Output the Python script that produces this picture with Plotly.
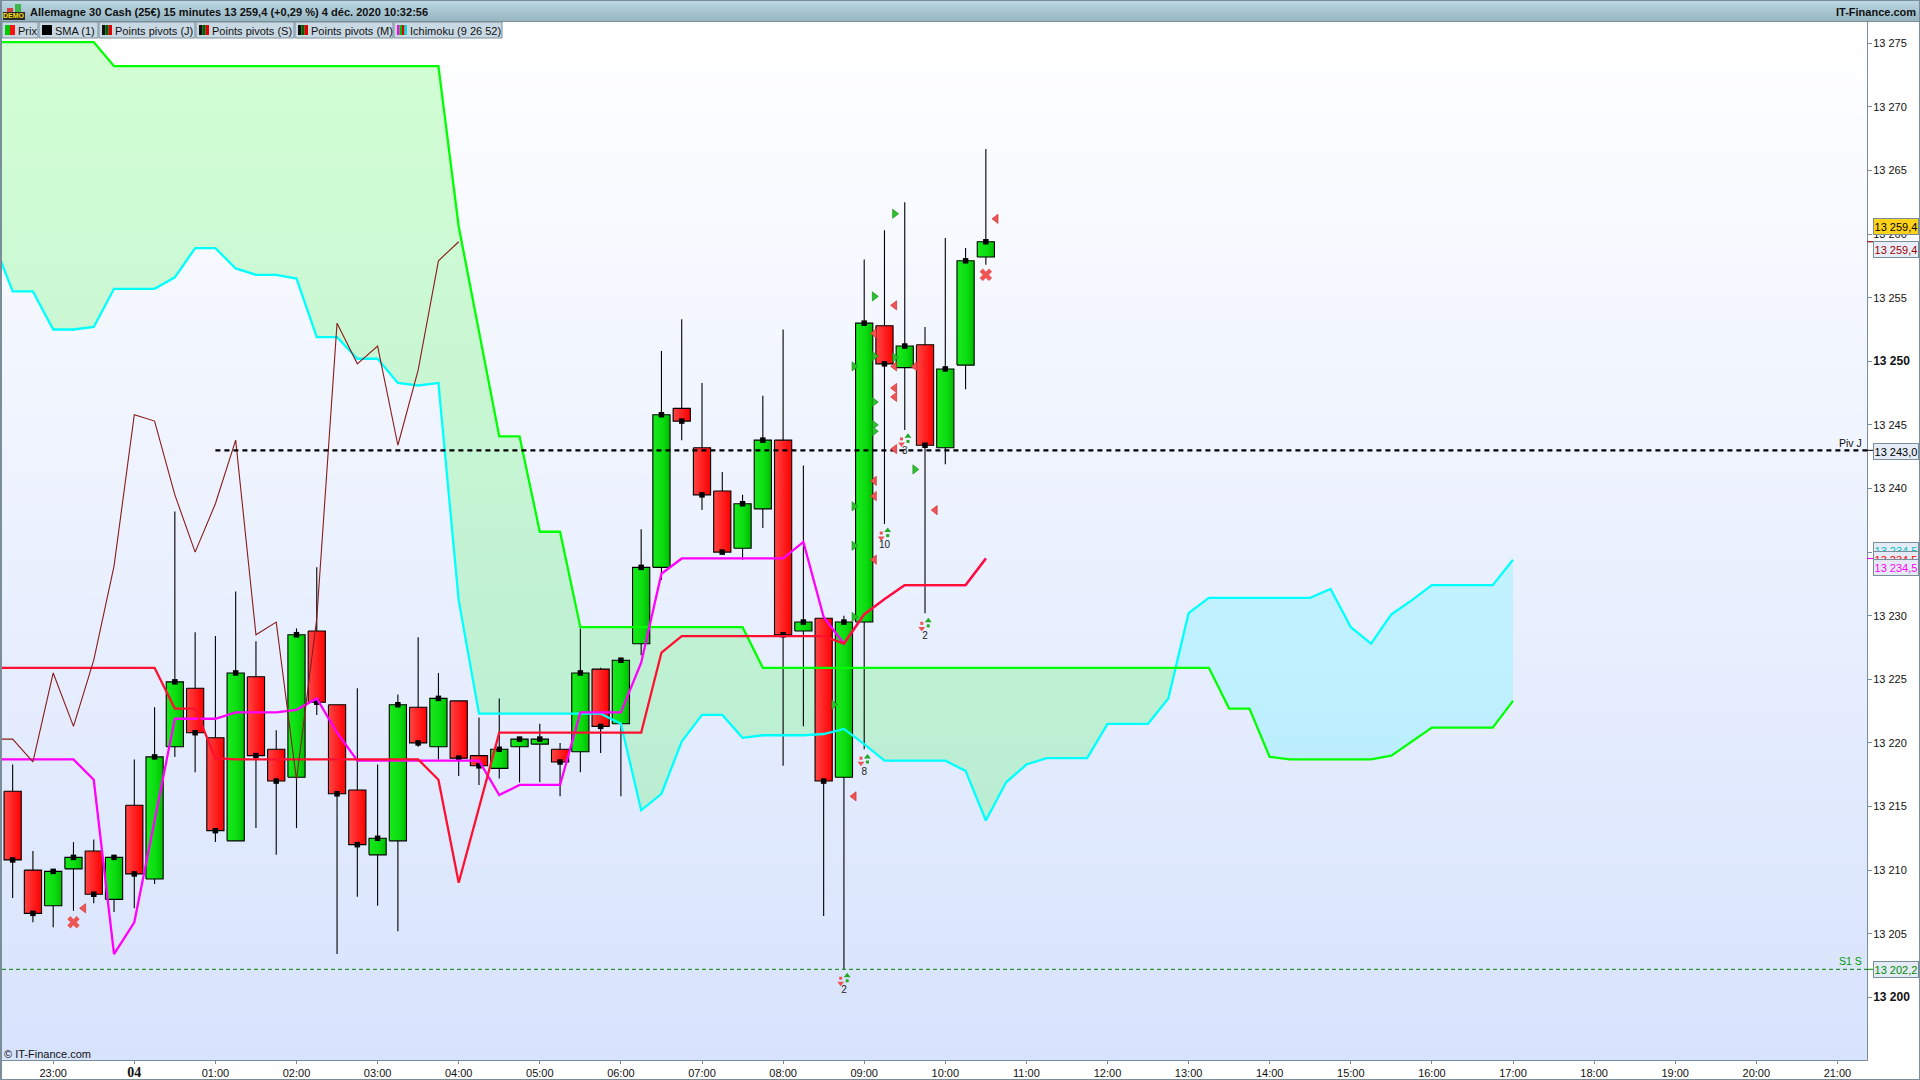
import plotly.graph_objects as go

# ---------- data ----------
bar_hours = [h * 0.25 for h in range(-6, 43)]
opens = [13216.2,13210.0,13207.2,13210.1,13211.5,13207.7,13215.1,13209.3,13219.7,13224.3,13220.4,13212.3,13225.2,13219.5,13217.3,13228.8,13223.0,13216.3,13211.2,13212.3,13222.8,13219.7,13223.3,13219.0,13218.0,13219.7,13219.9,13219.5,13219.3,13225.8,13221.5,13227.8,13233.8,13246.3,13243.2,13239.8,13235.3,13238.4,13243.8,13228.8,13229.8,13217.3,13229.5,13252.8,13249.5,13251.3,13243.2,13249.7,13258.2]
closes = [13210.8,13206.6,13209.9,13211.0,13208.1,13211.0,13209.7,13218.9,13224.8,13220.8,13213.1,13225.5,13219.0,13217.0,13228.5,13223.2,13216.0,13212.0,13212.5,13223.0,13220.0,13223.5,13218.8,13218.2,13219.5,13220.3,13220.3,13218.5,13225.5,13221.3,13226.5,13233.8,13245.8,13245.3,13239.5,13235.0,13238.8,13243.8,13228.5,13229.5,13217.0,13229.5,13253.0,13249.8,13251.2,13243.4,13249.4,13257.9,13259.4]
highs = [13218.3,13211.5,13209.9,13212.2,13212.4,13211.0,13218.7,13222.8,13238.2,13228.7,13228.4,13231.9,13228.0,13221.0,13229.0,13233.8,13223.0,13224.3,13218.3,13223.8,13228.3,13225.5,13223.3,13222.0,13223.5,13220.3,13221.5,13220.0,13229.0,13225.9,13226.5,13236.8,13250.8,13253.3,13248.3,13241.3,13239.5,13247.3,13252.5,13241.8,13229.8,13230.0,13258.0,13260.3,13262.5,13252.7,13259.7,13258.9,13266.7]
lows = [13207.8,13205.9,13205.5,13206.8,13207.4,13206.7,13207.0,13208.9,13218.9,13217.7,13212.2,13212.3,13213.3,13211.2,13213.3,13222.2,13203.4,13207.9,13207.2,13205.2,13219.7,13218.7,13217.4,13216.7,13217.2,13216.9,13216.9,13215.8,13217.7,13219.2,13215.8,13226.9,13232.8,13243.8,13238.3,13234.8,13234.4,13236.9,13218.2,13221.3,13206.4,13202.2,13219.5,13237.2,13244.6,13230.2,13241.9,13247.8,13257.6]

senkou_b = [13275.1]*6 + [13273.2]*17 + [13260.6,13252.4] + [13244.1]*2 + [13236.6]*2 + [13229.1]*9 + [13225.9]*23 + [13222.7]*2 + [13218.9] + [13218.7]*5 + [13219.0,13220.1] + [13221.2]*4 + [13223.3]
senkou_a = [13259.6,13255.5,13255.5,13252.5,13252.5,13252.7,13255.7,13255.7,13255.7,13256.6,13258.9,13258.9,13257.3,13256.8,13256.8,13256.5,13251.9,13251.9,13250.2,13250.2,13248.3,13248.1,13248.3,13231.2,13222.3,13222.3,13222.3,13222.3,13222.3,13222.3,13222.3,13221.5,13214.7,13216.0,13220.1,13222.2,13222.2,13220.4,13220.6,13220.6,13220.6,13220.7,13221.1,13219.9,13218.6,13218.6,13218.6,13218.6,13217.8,13213.9,13216.9,13218.3,13218.8,13218.8,13218.8,13221.5,13221.5,13221.5,13223.5,13230.2,13231.4,13231.4,13231.4,13231.4,13231.4,13231.4,13232.1,13229.1,13227.8,13230.1,13231.2,13232.4,13232.4,13232.4,13232.4,13234.4]
kijun = [13225.9]*9 + [13222.7]*2 + [13218.8] + [13218.7]*10 + [13217.1,13209.0,13214.9] + [13220.8]*8 + [13227.1] + [13228.4]*8 + [13227.8,13230.1,13231.3] + [13232.4]*4 + [13234.5]
tenkan = [13218.7]*5 + [13217.1,13203.4,13205.9,13213.9] + [13221.9]*3 + [13222.4]*3 + [13222.6,13223.5,13220.8] + [13218.6]*7 + [13215.9] + [13216.7]*3 + [13222.4]*3 + [13226.3,13233.3] + [13234.5]*6 + [13235.8,13229.9,13227.8,13230.1,13231.3] + [13232.4]*4 + [13234.5]
chikou = [13220.3,13220.3,13218.5,13225.5,13221.3,13226.5,13233.9,13245.8,13245.3,13239.5,13235.0,13238.8,13243.8,13228.5,13229.5,13217.1,13229.8,13253.0,13249.8,13251.2,13243.4,13249.3,13257.9,13259.4]

piv_j = 13243.0
piv_j_start = 1.0
s1_s = 13202.2

red_tri_h = [9.375,9.125,9.375,9.625,9.375,9.375,9.375,9.125,9.125,9.125,9.875,10.625,8.875,-0.625]
red_tri_v = [13254.4,13252.2,13249.6,13249.6,13247.9,13247.2,13243.1,13240.6,13239.4,13234.4,13238.3,13261.2,13215.8,13207.0]
green_tri_h = [9.125,9.375,9.125,9.375,8.875,9.125,9.125,9.125,8.875,8.875,8.875,9.625,8.625]
green_tri_v = [13255.1,13261.6,13250.4,13250.3,13249.6,13246.8,13245.0,13244.5,13238.6,13235.5,13229.9,13241.5,13223.0]
cross_h = [-0.75, 10.5]
cross_v = [13205.9, 13256.8]
frac_h = [8.71, 8.96, 9.21, 9.46, 9.71]
frac_up_h = [8.79, 9.04, 9.29, 9.54, 9.79]
frac_down_v = [13201.3,13218.6,13236.3,13243.7,13229.2]
frac_up_v = [13201.5,13218.7,13236.5,13243.9,13229.4]
frac_text_h = [8.75, 9.0, 9.25, 9.5, 9.75]
frac_text_v = [13200.5,13217.7,13235.5,13242.9,13228.4]
frac_text = ["2","8","10","3","2"]

BOLD_TICK = '<span style="font-size:12px"><b>%s</b></span>'
y_ticks = list(range(13200, 13280, 5))
y_labels = [BOLD_TICK % "13 200","13 205","13 210","13 215","13 220","13 225","13 230","13 235","13 240","13 245",BOLD_TICK % "13 250","13 255","13 260","13 265","13 270","13 275"]
x_ticks = list(range(-1, 22))
x_labels = ["23:00","<span style=\"font-family:'Liberation Serif';font-size:14px\"><b>04</b></span>","01:00","02:00","03:00","04:00","05:00","06:00","07:00","08:00","09:00","10:00","11:00","12:00","13:00","14:00","15:00","16:00","17:00","18:00","19:00","20:00","21:00"]

tabs = ["Prix","SMA (1)","Points pivots (J)","Points pivots (S)","Points pivots (M)","Ichimoku (9 26 52)"]
tab_edges = [2,39,99,196,295,394,503]
tab_colors = [["#00c800","#ff1010"],["#000000"],["#101010","#006000","#e00000"],["#101010","#006000","#e00000"],["#101010","#006000","#e00000"],["#ff00ff","#00c000","#e00000","#00e0e0"]]

# ---------- geometry of the page ----------
W, H = 1920, 1080
L, R, T, B = 2, 1867, 22, 1060
PX_PER_H = 81.1
ORIGIN = 134.3
PX_PER_V = 12.72
Y200 = 997.3
x_range = [(L - ORIGIN) / PX_PER_H, (R - ORIGIN) / PX_PER_H]
y_range = [13200 + (Y200 - B) / PX_PER_V, 13200 + (Y200 - T) / PX_PER_V]
AX = lambda px: (px - L) / (R - L)
AY = lambda py: (B - py) / (B - T)

fig = go.Figure()

# background gradient
fig.add_trace(go.Heatmap(x=x_range, y=y_range, z=[[1, 1], [0, 0]], zsmooth="best", showscale=False, hoverinfo="skip",
                         colorscale=[[0, "#ffffff"], [1, "#d7e3fd"]], zmin=0, zmax=1))

# cloud
ichi_hours = [-1.75 + 0.25 * i for i in range(len(senkou_a))]
def cloud_parts(hs, a, b):
    parts, cur = [], None
    for i in range(len(hs)):
        sign = b[i] >= a[i]
        if cur is None:
            cur = {"sign": sign, "h": [], "a": [], "b": []}
        elif sign != cur["sign"]:
            d0, d1 = b[i-1] - a[i-1], b[i] - a[i]
            t = d0 / (d0 - d1)
            hc = hs[i-1] + t * (hs[i] - hs[i-1])
            vc = a[i-1] + t * (a[i] - a[i-1])
            cur["h"].append(hc); cur["a"].append(vc); cur["b"].append(vc)
            parts.append(cur)
            cur = {"sign": sign, "h": [hc], "a": [vc], "b": [vc]}
        cur["h"].append(hs[i]); cur["a"].append(a[i]); cur["b"].append(b[i])
    parts.append(cur)
    return parts
for p in cloud_parts(ichi_hours, senkou_a, senkou_b):
    fig.add_trace(go.Scatter(x=p["h"] + p["h"][::-1], y=p["a"] + p["b"][::-1], mode="none", fill="toself",
                             fillcolor="rgba(0,255,0,0.167)" if p["sign"] else "rgba(0,255,255,0.17)", hoverinfo="skip"))

# wicks
wx, wy = [], []
for h, hi, lo in zip(bar_hours, highs, lows):
    wx += [h, h, None]; wy += [hi, lo, None]
fig.add_trace(go.Scatter(x=wx, y=wy, mode="lines", line=dict(color="#000000", width=1.1), hoverinfo="skip"))

# bodies
half = 8.6 / PX_PER_H
for h, o, c in zip(bar_hours, opens, closes):
    up = c >= o
    scale = [[0, "#18ea1e"], [0.6, "#0adc10"], [1, "#00bb00"]] if up else [[0, "#ff4444"], [1, "#ff0000"]]
    fig.add_trace(go.Scatter(x=[h-half, h+half, h+half, h-half, h-half], y=[o, o, c, c, o], mode="lines", fill="toself",
                             line=dict(color="#000000", width=1.1),
                             fillgradient=dict(type="horizontal", colorscale=scale), hoverinfo="skip"))

# closes
fig.add_trace(go.Scatter(x=bar_hours, y=closes, mode="markers", marker=dict(symbol="square", size=5.5, color="#000000", line=dict(width=0)), hoverinfo="skip"))

# ichimoku lines
def line(hs, vs, color, width=2.3):
    fig.add_trace(go.Scatter(x=hs, y=vs, mode="lines", line=dict(color=color, width=width), hoverinfo="skip"))
line(ichi_hours, senkou_a, "#00ffff")
line(ichi_hours, senkou_b, "#00ff00")
line(ichi_hours[:len(tenkan)], tenkan, "#ff00ff")
line(ichi_hours[:len(kijun)], kijun, "#ff1030")
line(ichi_hours[:len(chikou)], chikou, "#8b1a1a", 1.1)

# pivots
fig.add_trace(go.Scatter(x=[piv_j_start, x_range[1]], y=[piv_j, piv_j], mode="lines", line=dict(color="#000000", width=2.2, dash="5px,4px"), hoverinfo="skip"))
fig.add_trace(go.Scatter(x=[x_range[0], x_range[1]], y=[s1_s, s1_s], mode="lines", line=dict(color="#008000", width=1, dash="4px,3px"), hoverinfo="skip"))

# signal marks
RED, GRN = "#ee5555", "#22aa22"
fig.add_trace(go.Scatter(x=red_tri_h, y=red_tri_v, mode="markers", marker=dict(symbol="triangle-left", size=8, color=RED, line=dict(color="#cc2222", width=0.6)), hoverinfo="skip"))
fig.add_trace(go.Scatter(x=green_tri_h, y=green_tri_v, mode="markers", marker=dict(symbol="triangle-right", size=8, color="#2fbf2f", line=dict(color="#118811", width=0.6)), hoverinfo="skip"))
fig.add_trace(go.Scatter(x=cross_h, y=cross_v, mode="markers", marker=dict(symbol="x", size=11, color=RED, line=dict(width=0)), hoverinfo="skip"))
STEM = 0.2
fig.add_trace(go.Scatter(x=frac_h, y=[v + STEM for v in frac_down_v], mode="markers", marker=dict(symbol="square", size=3, color=RED, line=dict(width=0)), hoverinfo="skip"))
fig.add_trace(go.Scatter(x=frac_h, y=[v - STEM for v in frac_down_v], mode="markers", marker=dict(symbol="triangle-down", size=6, color=RED, line=dict(width=0)), hoverinfo="skip"))
fig.add_trace(go.Scatter(x=frac_up_h, y=[v - STEM for v in frac_up_v], mode="markers", marker=dict(symbol="square", size=3, color=GRN, line=dict(width=0)), hoverinfo="skip"))
fig.add_trace(go.Scatter(x=frac_up_h, y=[v + STEM for v in frac_up_v], mode="markers", marker=dict(symbol="triangle-up", size=6, color=GRN, line=dict(width=0)), hoverinfo="skip"))
fig.add_trace(go.Scatter(x=frac_text_h, y=frac_text_v, mode="text", text=frac_text, textposition="middle center",
                         textfont=dict(family="Liberation Sans", size=10, color="#222222"), hoverinfo="skip"))

# ---------- chrome ----------
shapes, ann = [], []
EDGE = "#7a8e9a"
def rect(x0, y0, x1, y1, fill, line_color=None, layer="above"):
    shapes.append(dict(type="rect", xref="paper", yref="paper", x0=AX(x0), x1=AX(x1), y0=AY(y0), y1=AY(y1), fillcolor=fill,
                       line=dict(color=line_color, width=1) if line_color else dict(width=0), layer=layer))
def label(px, py, text, size=11, color="#000000", anchor="left", bold=False, family="Liberation Sans"):
    ann.append(dict(xref="paper", yref="paper", x=AX(px), y=AY(py), text=f"<b>{text}</b>" if bold else text, showarrow=False,
                    xanchor=anchor, yanchor="middle", font=dict(family=family, size=size, color=color), borderpad=0))

# header gradient
top_c, bot_c = (0xbb, 0xd8, 0xe4), (0x98, 0xb6, 0xc2)
for i in range(21):
    t = i / 20
    col = "rgb(%d,%d,%d)" % tuple(round(a + (b - a) * t) for a, b in zip(top_c, bot_c))
    rect(0, i, W, i + 1, col)
shapes.append(dict(type="line", xref="paper", yref="paper", x0=AX(0), x1=AX(W), y0=AY(21.5), y1=AY(21.5), line=dict(color=EDGE, width=1)))
shapes.append(dict(type="line", xref="paper", yref="paper", x0=AX(0), x1=AX(W), y0=AY(0.5), y1=AY(0.5), line=dict(color=EDGE, width=1)))
shapes.append(dict(type="line", xref="paper", yref="paper", x0=AX(0), x1=AX(W), y0=AY(1079.5), y1=AY(1079.5), line=dict(color=EDGE, width=1)))
shapes.append(dict(type="line", xref="paper", yref="paper", x0=AX(1), x1=AX(1), y0=AY(0), y1=AY(1080), line=dict(color=EDGE, width=2)))
shapes.append(dict(type="line", xref="paper", yref="paper", x0=AX(1919.5), x1=AX(1919.5), y0=AY(0), y1=AY(1080), line=dict(color=EDGE, width=1)))
label(29, 12.5, "Allemagne 30 Cash (25€) 15 minutes 13 259,4 (+0,29 %) 4 déc. 2020 10:32:56", size=11.07, bold=True, color="#111111")
label(1917, 12.5, "IT-Finance.com", size=11, bold=True, anchor="right", color="#111111")

# demo logo
rect(3, 12, 25, 20, "#2a2a2a")
rect(7, 8, 13, 12, "#d83a3a")
rect(15, 4, 21, 12, "#3cb84a")
label(14, 16, "DEMO", size=7, color="#ffe000", anchor="center", bold=True)

# indicator tabs
for i, t in enumerate(tabs):
    x0, x1 = tab_edges[i], tab_edges[i + 1] - 1
    rect(x0, 22, x1, 38, "#c9d9e4", EDGE)
    cols = tab_colors[i]
    sw = 10 / len(cols)
    for j, c in enumerate(cols):
        rect(x0 + 3 + j * sw, 25, x0 + 3 + (j + 1) * sw, 35, c)
    label(x0 + 15, 30.5, t, size=11, color="#111111")

label(3, 1054, "© IT-Finance.com", size=11, color="#111111")

# right-hand level labels
tag_values = [13259.4, 13259.4, 13243.0, 13234.5, 13234.5, 13234.5, 13202.2]
tag_text = ["13 259,4", "13 259,4", "13 243,0", "13 234,5", "13 234,5", "13 234,5", "13 202,2"]
tag_shift = [15, -8, -1, 7.5, -1, -9, 0]
tag_bg = ["#ffd21a", "#e8eef9", "#e4ebf7", "#e4ebf7", "#e4ebf7", "#e4ebf7", "#e4ebf7"]
tag_fg = ["#000000", "#a00000", "#000000", "#00c0c0", "#ff0000", "#ff00ff", "#008a00"]
for i in range(len(tag_values)):
    ann.append(dict(xref="paper", yref="y", x=AX(1873), y=tag_values[i], yshift=tag_shift[i], text=tag_text[i], showarrow=False,
                    xanchor="left", yanchor="middle", width=44, height=15, align="center", bgcolor=tag_bg[i], bordercolor=EDGE, borderwidth=1, borderpad=0,
                    font=dict(family="Liberation Sans", size=11, color=tag_fg[i])))
    shapes.append(dict(type="line", xref="paper", yref="y", x0=AX(1867), x1=AX(1873), y0=tag_values[i], y1=tag_values[i], line=dict(color=tag_fg[i] if i != 0 else EDGE, width=1)))

ann.append(dict(xref="paper", yref="y", x=AX(1863.5), y=piv_j, yshift=7, text="Piv J", showarrow=False, xanchor="right", yanchor="middle", font=dict(family="Liberation Sans", size=10.5, color="#111111")))
ann.append(dict(xref="paper", yref="y", x=AX(1863.5), y=s1_s, yshift=8, text="S1 S", showarrow=False, xanchor="right", yanchor="middle", font=dict(family="Liberation Sans", size=10.5, color="#009900")))

fig.update_layout(
    width=W, height=H, margin=dict(l=L, r=W - R, t=T, b=H - B, pad=0, autoexpand=False), paper_bgcolor="#ffffff", plot_bgcolor="#ffffff",
    showlegend=False, shapes=shapes, annotations=ann, hovermode=False,
    font=dict(family="Liberation Sans", size=11, color="#111111"),
    xaxis=dict(range=x_range, automargin=False, tickmode="array", tickvals=x_ticks, ticktext=x_labels, ticks="outside", ticklen=3, tickcolor=EDGE, tickwidth=1,
               showgrid=False, zeroline=False, showline=True, linecolor=EDGE, linewidth=1, tickangle=0, tickfont=dict(family="Liberation Sans", size=11, color="#111111")),
    yaxis=dict(range=y_range, automargin=False, side="right", tickmode="array", tickvals=y_ticks, ticktext=y_labels, ticks="outside", ticklen=4, tickcolor=EDGE, tickwidth=1, ticklabelstandoff=-1,
               showgrid=False, zeroline=False, showline=True, linecolor=EDGE, linewidth=1, tickfont=dict(family="Liberation Sans", size=11, color="#111111")),
)

fig.write_html("out.html", config={"displayModeBar": False},
               post_script="document.documentElement.style.cssText='margin:0;padding:0;height:1080px;overflow:hidden';document.body.style.cssText='margin:0;padding:0;height:1080px;overflow:hidden';var g=document.querySelector('.plotly-graph-div');g.style.position='fixed';g.style.top='0';g.style.left='0';")
